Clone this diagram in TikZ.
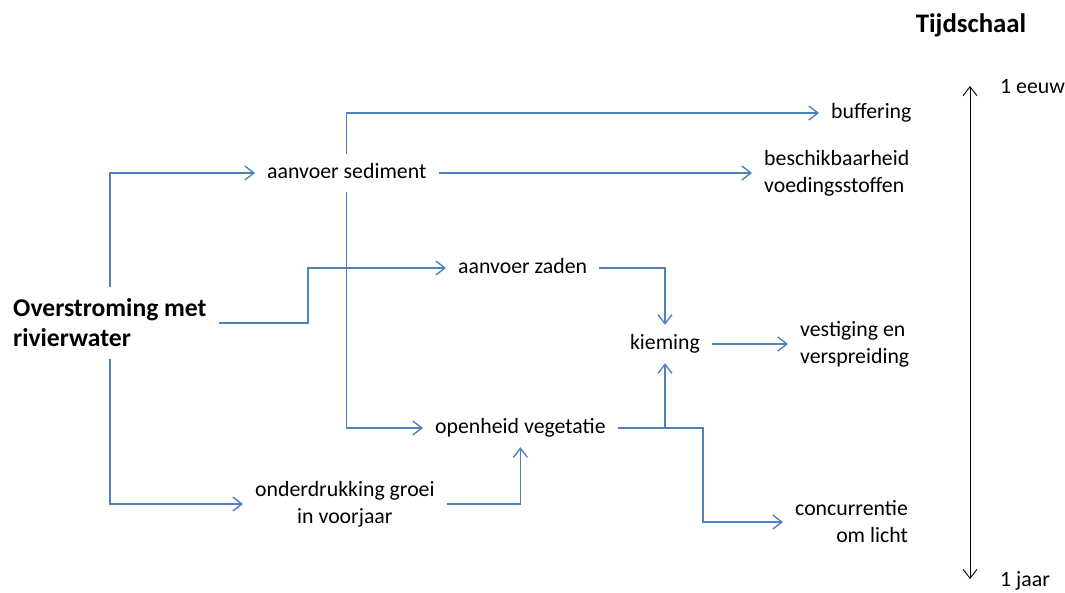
\documentclass[tikz,border=0pt]{standalone}
\usepackage{fontspec}
\setmainfont{Carlito}
\usepackage{tikz}
\usetikzlibrary{arrows.meta}
\definecolor{flowblue}{HTML}{4F81BD}

\begin{document}
\begin{tikzpicture}[x=1pt,y=-1pt,
  >={Straight Barb[length=9pt,width=14pt]},
  lbl/.style={inner xsep=12pt,inner ysep=9pt,anchor=west,font=\fontsize{21.8}{27}\selectfont},
  one/.style={lbl,text height=15pt,text depth=5pt},
  hdr/.style={inner sep=0pt,font=\fontsize{26.8}{31}\selectfont\bfseries},
  flow/.style={color=flowblue,line width=1.4pt},
  vh/.style={to path={|- (\tikztotarget)}},
  hv/.style={to path={-| (\tikztotarget)}},
  jog/.style={to path={-- ++(#1,0) |- (\tikztotarget)}}]
  \useasboundingbox (0,0) rectangle (1065,592);
  % time scale
  \node[hdr](tijd) at (971,25){Tijdschaal};
  \coordinate (top) at (970,86);
  \coordinate (bot) at (970,579);
  \node[one](eeuw) at (988,88){1 eeuw};
  \node[one](jaar) at (988,581){1 jaar};
  \draw[<->,line width=0.9pt] (top) -- (bot);
  % causes and effects
  \node[lbl,align=left,inner ysep=12pt,font=\fontsize{25.6}{30}\selectfont\bfseries](over) at (1,323){Overstroming met\\rivierwater};
  \node[one](sed) at (255,173){aanvoer sediment};
  \node[one](zad) at (446,268){aanvoer zaden};
  \node[lbl,align=center](ond) at (243,504){onderdrukking groei\\in voorjaar};
  \node[one](open) at (423,428){openheid vegetatie};
  \node[one,anchor=center](kiem) at (665,344){kieming};
  \node[one](buf) at (819,113){buffering};
  \node[lbl,align=left](besch) at (752,173){beschikbaarheid\\voedingsstoffen};
  \node[lbl,align=left](vest) at (788,344){vestiging en\\verspreiding};
  \node[lbl,align=right](conc) at (783,522){concurrentie\\om licht};
  \path[->,flow]
    (over.north) edge[vh] (sed)
    (over.south) edge[vh] (ond)
    (over.east) edge[jog=89] (zad)
    (sed.north) edge[vh] (buf)
    (sed) edge (besch)
    (sed.south) edge[vh] (open)
    (zad) edge[hv] (kiem)
    (ond.east) edge[hv] (open.south)
    (open) edge[hv] (kiem)
    (open.east) edge[jog=85] (conc)
    (kiem) edge (vest);
\end{tikzpicture}
\end{document}
